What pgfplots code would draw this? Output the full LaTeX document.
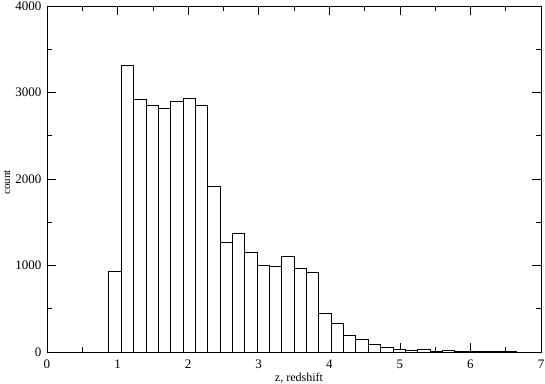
\documentclass[border=0pt]{standalone}
\usepackage{fontspec}
\setmainfont{Liberation Serif}
\usepackage{pgfplots}
\pgfplotsset{compat=1.18}
\begin{document}
\begin{tikzpicture}[x=1pt,y=1pt]
\begin{axis}[
  scale only axis,
  width=494pt, height=346pt,
  xmin=0, xmax=7, ymin=0, ymax=4000,
  xtick={0,1,...,7}, ytick={0,1000,2000,3000,4000},
  minor x tick num=1, minor y tick num=1,
  tick align=inside,
  major tick length=9pt, minor tick length=5pt,
  tick style={black, line width=0.6pt},
  axis line style={line width=0.8pt},
  /pgf/number format/1000 sep={},
  /pgf/number format/assume math mode=true,
  tick label style={font=\fontsize{13}{15}\selectfont},
  xticklabel style={anchor=north, yshift=-4pt},
  yticklabel style={anchor=east, xshift=-2pt},
  xlabel={z, redshift},
  ylabel={count},
  xlabel style={font=\fontsize{12}{14}\selectfont, at={(0.51,0)}, anchor=base, yshift=-30pt},
  ylabel style={font=\fontsize{11}{13}\selectfont, at={(0,0.49)}, anchor=center, yshift=40pt},
]
\addplot[ybar interval, fill=white, draw=black, line width=0.6pt] coordinates {
(0.875,928) (1.05,3314) (1.225,2921) (1.4,2855) (1.575,2820) (1.75,2894)
(1.925,2936) (2.1,2855) (2.275,1911) (2.45,1268) (2.625,1372) (2.8,1152)
(2.975,998) (3.15,990) (3.325,1106) (3.5,963) (3.675,921) (3.85,451)
(4.025,335) (4.2,189) (4.375,150) (4.55,89) (4.725,58) (4.9,35)
(5.075,19) (5.25,27) (5.425,12) (5.6,19) (5.775,6) (5.95,5)
(6.125,4) (6.3,3) (6.475,3) (6.65,2) (6.825,2) (7.0,2)
};
\end{axis}
\pgfresetboundingbox
\path[use as bounding box] ([shift={(-47pt,-32pt)}]current axis.south west) rectangle ([shift={(4pt,6pt)}]current axis.north east);
\end{tikzpicture}
\end{document}
